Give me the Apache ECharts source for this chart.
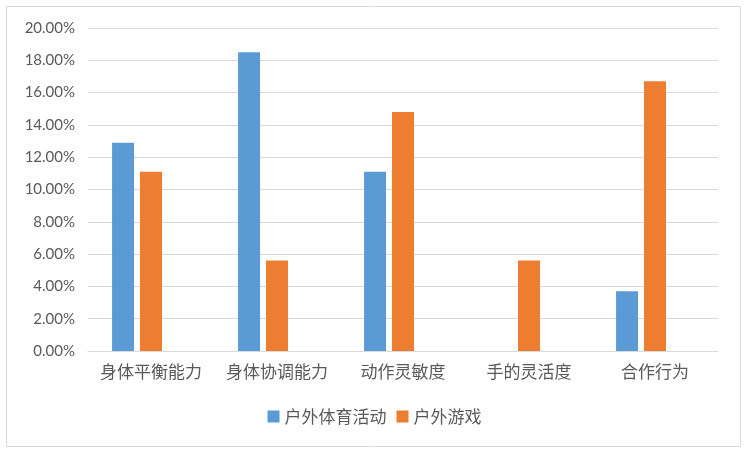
<!DOCTYPE html>
<html><head><meta charset="utf-8">
<script src="https://cdn.jsdelivr.net/npm/echarts@6/dist/echarts.min.js"></script>
<style>html,body{margin:0;padding:0;background:#fff}#c{width:749px;height:454px}</style>
</head><body><div id="c"></div>
<script>
const categories = ['身体平衡能力','身体协调能力','动作灵敏度','手的灵活度','合作行为'];
const outdoorSports = [12.9, 18.5, 11.1, 0, 3.7];
const outdoorGames = [11.1, 5.6, 14.8, 5.6, 16.7];
const yTicks = {min: 0, max: 20, interval: 2};
const cjk = '"Noto Sans CJK SC", sans-serif';
const chart = echarts.init(document.getElementById('c'), null, {renderer: 'canvas'});
chart.setOption({
  animation: false,
  graphic: [{type: 'rect', shape: {x: 6.5, y: 6.5, width: 734, height: 440}, style: {fill: 'none', stroke: '#d9d9d9', lineWidth: 1}}],
  grid: {left: 88, right: 31, top: 28, bottom: 103},
  legend: {data: ['户外体育活动', '户外游戏'], bottom: 24, left: 'center', itemWidth: 12, itemHeight: 12, itemGap: 10,
    icon: 'rect', textStyle: {fontFamily: cjk, fontSize: 17, color: '#595959'}},
  xAxis: {type: 'category', data: categories,
    axisLine: {lineStyle: {color: '#d9d9d9'}}, axisTick: {show: false},
    axisLabel: {interval: 0, margin: 12, fontFamily: cjk, fontSize: 17, color: '#595959'}},
  yAxis: {type: 'value', min: yTicks.min, max: yTicks.max, interval: yTicks.interval,
    axisLine: {show: false}, axisTick: {show: false},
    splitLine: {lineStyle: {color: '#d9d9d9'}},
    axisLabel: {margin: 13, fontFamily: 'Lato, sans-serif', fontSize: 15, color: '#595959',
      formatter: v => v.toFixed(2) + '%'}},
  series: [
    {name: '户外体育活动', type: 'bar', data: outdoorSports, barWidth: 22, barGap: '27%', itemStyle: {color: '#5B9BD5'}},
    {name: '户外游戏', type: 'bar', data: outdoorGames, barWidth: 22, barGap: '27%', itemStyle: {color: '#ED7D31'}},
    {name: '', type: 'bar', data: [], barWidth: 22, barGap: '27%'}
  ]
});
</script></body></html>
